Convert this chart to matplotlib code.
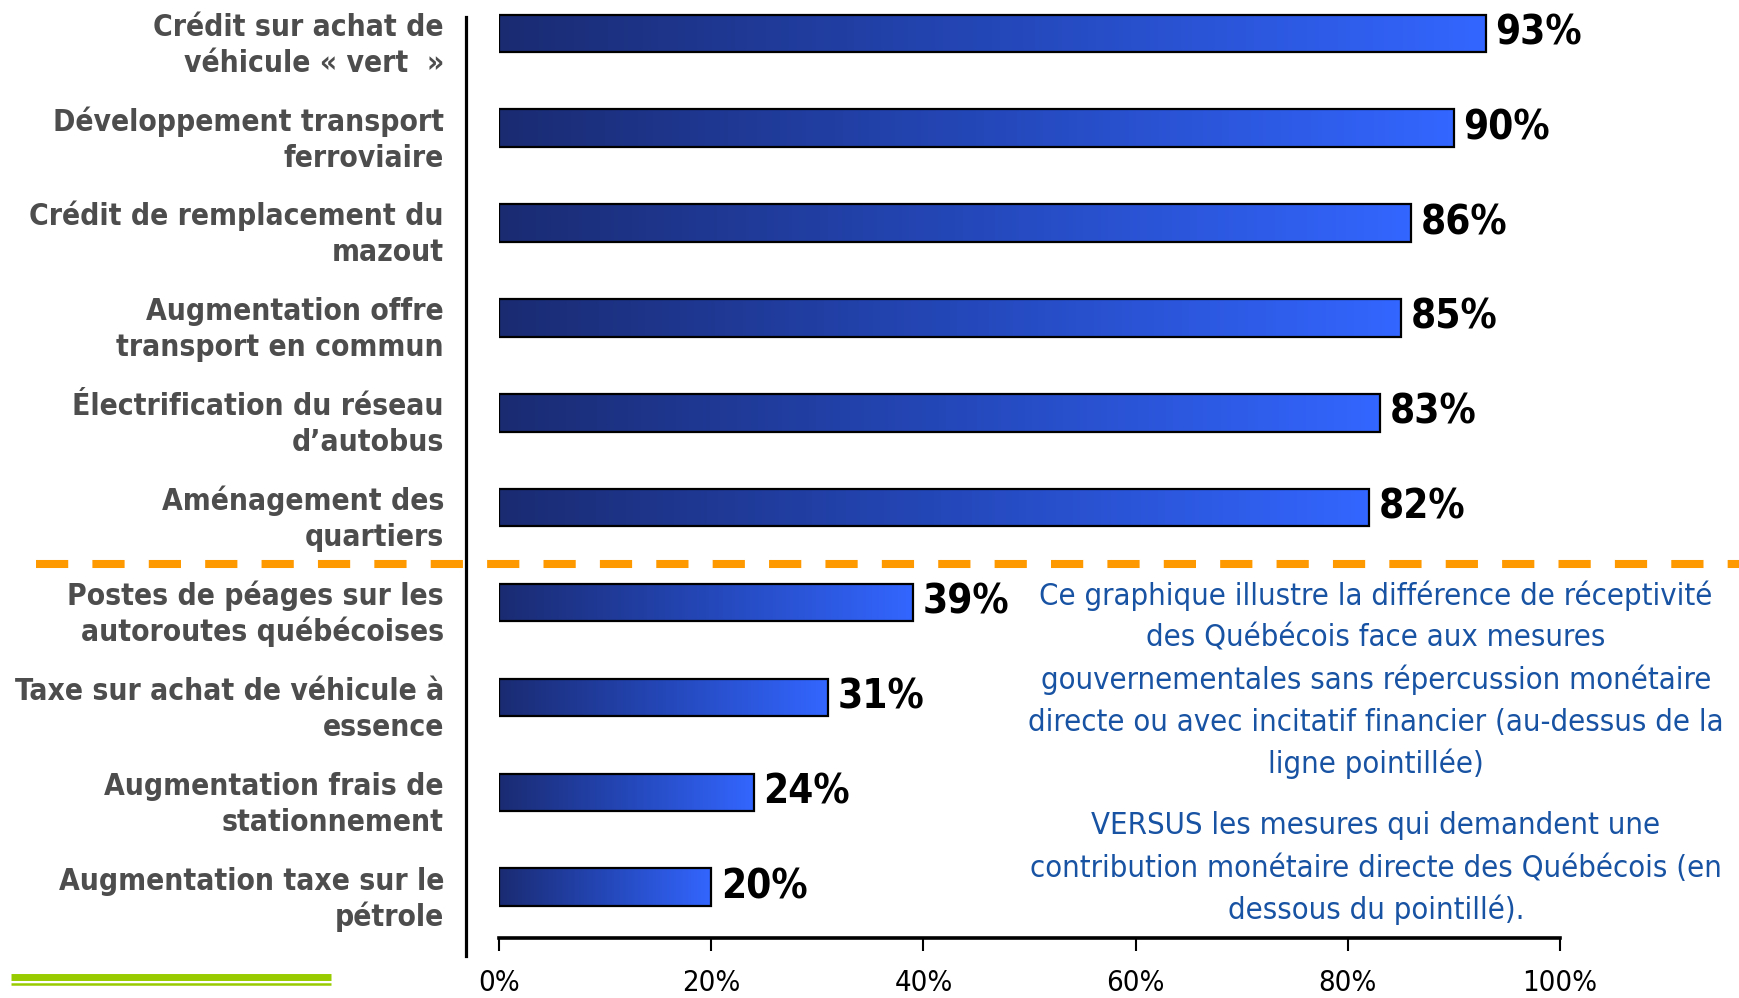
import numpy as np
import matplotlib
matplotlib.use("Agg")
import matplotlib.pyplot as plt
from matplotlib import font_manager as fm
from matplotlib.colors import LinearSegmentedColormap
from matplotlib.lines import Line2D
import matplotlib.transforms as mtransforms

# ---------------- data ----------------
cat_line1 = ["Crédit sur achat de", "Développement transport", "Crédit de remplacement du",
             "Augmentation offre", "Électrification du réseau", "Aménagement des",
             "Postes de péages sur les", "Taxe sur achat de véhicule à",
             "Augmentation frais de", "Augmentation taxe sur le"]
cat_line2 = ["véhicule « vert  »", "ferroviaire", "mazout", "transport en commun",
             "d’autobus", "quartiers", "autoroutes québécoises", "essence",
             "stationnement", "pétrole"]
values = [93, 90, 86, 85, 83, 82, 39, 31, 24, 20]
xticks = [0, 20, 40, 60, 80, 100]
xtick_labels = ["0%", "20%", "40%", "60%", "80%", "100%"]
note_para1 = ["Ce graphique illustre la différence de réceptivité",
              "des Québécois face aux mesures",
              "gouvernementales sans répercussion monétaire",
              "directe ou avec incitatif financier (au-dessus de la",
              "ligne pointillée)"]
note_para2 = ["VERSUS les mesures qui demandent une",
              "contribution monétaire directe des Québécois (en",
              "dessous du pointillé)."]
separator_pos = 5.59   # between group 1 (index 0-5) and group 2 (6-9)

# ---------------- fonts ----------------
names = {f.name for f in fm.fontManager.ttflist}
if "Liberation Sans Narrow" in names:
    bold_font = dict(family="Liberation Sans Narrow", weight="bold")
    reg_font = dict(family="Liberation Sans Narrow")
    cat_fs, val_fs, tick_fs, note_fs = 27, 34, 24, 22.5
else:
    bold_font = dict(family="DejaVu Sans", weight="bold", stretch="condensed")
    reg_font = dict(family="DejaVu Sans", stretch="condensed")
    cat_fs, val_fs, tick_fs, note_fs = 21.5, 29, 21, 22.2

W, H = 1740, 998
fig = plt.figure(figsize=(W / 100, H / 100), dpi=100)
ax = fig.add_axes([499 / W, 1 - 938 / H, (1560 - 499) / W, 938 / H])

cmap = LinearSegmentedColormap.from_list("g", ["#1A2B72", "#2447B8", "#3366FF"])
grad = np.linspace(0, 1, 256).reshape(1, -1)
bh = 0.395

for i, v in enumerate(values):
    ax.imshow(grad, extent=(0, v, i + bh / 2, i - bh / 2), aspect="auto",
              cmap=cmap, zorder=2, interpolation="bilinear")
ax.barh(range(len(values)), values, height=bh, fill=False,
        edgecolor="black", linewidth=1.6, zorder=3)

for i, v in enumerate(values):
    ax.annotate(f"{v}%", xy=(v, i), xytext=(7, 0), textcoords="offset points",
                va="center", ha="left", fontsize=val_fs, color="black", **bold_font)

ax.set_xlim(0, 100)
ax.set_ylim(9.535, -0.351)
ax.set_yticks([])
ax.set_xticks(xticks)
ax.set_xticklabels(xtick_labels, fontsize=tick_fs, **reg_font)
ax.tick_params(axis="x", direction="out", length=9, width=1.5, pad=13, color="black")
for s in ["left", "top", "right"]:
    ax.spines[s].set_visible(False)
ax.spines["bottom"].set_linewidth(2.6)
ax.patch.set_alpha(0)

trans = mtransforms.blended_transform_factory(fig.transFigure, ax.transData)
for i in range(len(values)):
    ax.text(444 / W, i + 0.025, cat_line1[i], transform=trans, ha="right", va="baseline",
            fontsize=cat_fs, color="#4D4D4D", **bold_font)
    ax.text(444 / W, i + 0.405, cat_line2[i], transform=trans, ha="right", va="baseline",
            fontsize=cat_fs, color="#4D4D4D", **bold_font)

# dashed separator
ax.plot([36 / W, 1.0], [separator_pos, separator_pos], transform=trans, color="#FF9900",
        lw=5.8, dashes=(4.0, 3.0), clip_on=False, zorder=1, solid_capstyle="butt",
        dash_capstyle="butt")

# vertical axis line
fig.add_artist(Line2D([466 / W, 466 / W], [1 - 17 / H, 1 - 956 / H], color="black", lw=2.3))

# green decorative lines
fig.add_artist(Line2D([11 / W, 331 / W], [1 - 976.7 / H] * 2, color="#99CC00", lw=5.0,
                      solid_capstyle="butt"))
fig.add_artist(Line2D([11 / W, 331 / W], [1 - 983.9 / H] * 2, color="#99CC00", lw=1.8,
                      solid_capstyle="butt"))

# note text
note_color = "#1752A3"
p1_y = [594, 636, 678, 720, 762]
p2_y = [823, 866, 908]
for line, y in zip(note_para1, p1_y):
    fig.text(1376 / W, 1 - (y + 11) / H, line, ha="center", va="baseline",
             fontsize=note_fs, color=note_color, **reg_font)
for line, y in zip(note_para2, p2_y):
    fig.text(1376 / W, 1 - (y + 11) / H, line, ha="center", va="baseline",
             fontsize=note_fs, color=note_color, **reg_font)

fig.savefig("out.png", dpi=100)
